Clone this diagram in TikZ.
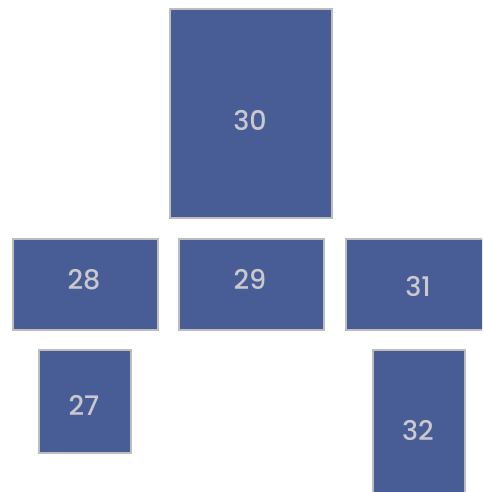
\documentclass[tikz,border=0pt]{standalone}
\usepackage{fontspec}
\setmainfont{Poppins}
\newfontfamily\numfont{Poppins Medium}
\definecolor{tilefill}{HTML}{485C95}
\definecolor{tileedge}{HTML}{BDBDC0}
\definecolor{tiletext}{HTML}{C9C9CD}
\tikzset{
  tile/.style={draw=tileedge,fill=tilefill,line width=2pt,inner sep=0pt},
  tilenum/.style={text=tiletext,font=\numfont\fontsize{27}{27}\selectfont,inner sep=0pt}
}
\begin{document}
\begin{tikzpicture}[x=1pt,y=-1pt]
\useasboundingbox (0,0) rectangle (482,492);
\clip (0,0) rectangle (482,492);
% tiles: name / left / top / width / height / label position
\foreach \n/\l/\t/\w/\h/\tx/\ty in {
  30/169/8/162/209/250/120,
  28/12/238/145/91/84/280,
  29/178/238/145/91/250/279,
  31/345/238/220/91/418/286,
  27/38/349/92/103/84/405,
  32/372/349/92/200/418/430}{
  \node[tile,anchor=north west,minimum width=\w pt,minimum height=\h pt] (tile\n) at (\l,\t) {};
  \node[tilenum] (num\n) at (\tx,\ty) {\n};
}
\end{tikzpicture}
\end{document}
